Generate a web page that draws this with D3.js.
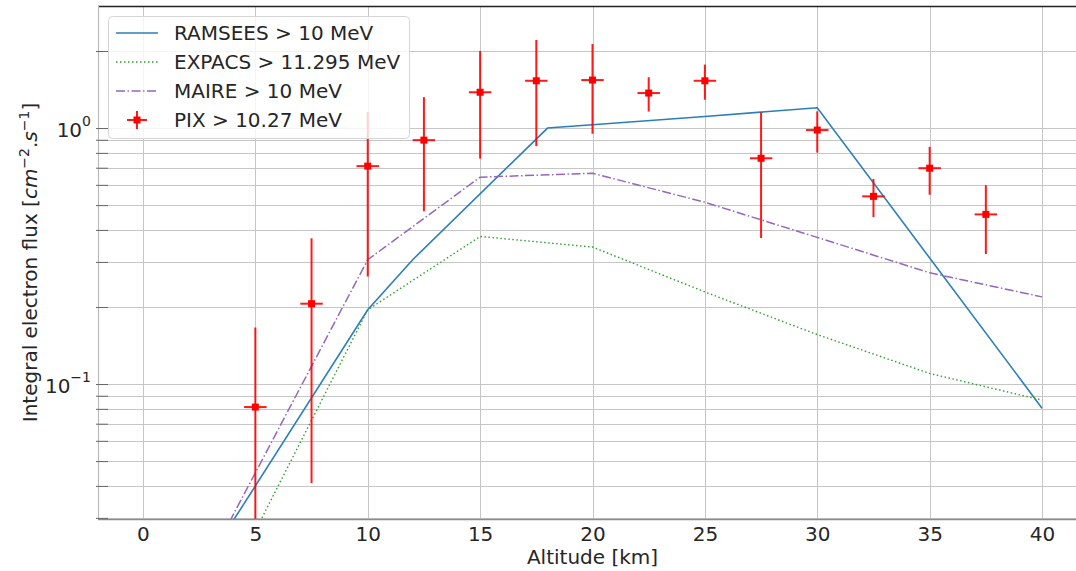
<!DOCTYPE html>
<html><head><meta charset="utf-8">
<script src="https://cdn.jsdelivr.net/npm/d3@7"></script>
<style>
body{margin:0;background:#fff;}
text{font-family:"DejaVu Sans",sans-serif;fill:#262626;}
</style>
</head><body>
<svg id="chart" width="1076" height="571"></svg>
<script>
// ---- data ----
const ramseesAlt  = [0, 10, 12, 18, 20, 25, 30, 40];
const ramseesFlux = [0.0082, 0.195, 0.306, 1.0, 1.03, 1.11, 1.20, 0.0805];
const expacsAlt   = [0, 5, 10, 15, 20, 25, 30, 35, 40];
const expacsFlux  = [0.0036, 0.0267, 0.195, 0.377, 0.343, 0.229, 0.156, 0.110, 0.0865];
const maireAlt    = [0, 5, 10, 15, 20, 25, 30, 35, 40];
const maireFlux   = [0.0066, 0.045, 0.306, 0.643, 0.666, 0.513, 0.374, 0.272, 0.219];
const pixAlt      = [5, 7.5, 10, 12.5, 15, 17.5, 20, 22.5, 25, 27.5, 30, 32.5, 35, 37.5];
const pixFlux     = [0.0813, 0.206, 0.71, 0.897, 1.38, 1.53, 1.54, 1.37, 1.53, 0.762, 0.982, 0.541, 0.697, 0.46];
const pixFluxErr  = [0.085, 0.165, 0.447, 0.424, 0.62, 0.68, 0.59, 0.21, 0.24, 0.39, 0.18, 0.092, 0.148, 0.138];
const pixAltErr   = [0.5, 0.5, 0.5, 0.5, 0.5, 0.5, 0.5, 0.5, 0.5, 0.5, 0.5, 0.5, 0.5, 0.5];
const xTicks      = [0, 5, 10, 15, 20, 25, 30, 35, 40];
const yMajorTicks = [0.1, 1];
const yMajorExp   = ["\u22121", "0"];
const yMinorTicks = [0.03,0.04,0.05,0.06,0.07,0.08,0.09,0.2,0.3,0.4,0.5,0.6,0.7,0.8,0.9,2];
const legendLabels = ["RAMSEES > 10 MeV", "EXPACS > 11.295 MeV", "MAIRE > 10 MeV", "PIX > 10.27 MeV"];

// ---- layout ----
const L = 98, R = 1087, T = 6, B = 519;
const svg = d3.select("#chart");
const x = d3.scaleLinear().domain([-2, 42]).range([L, R]);
const y = d3.scaleLog().domain([0.0297, 2.998]).range([B, T]);

const FS = 20;
const gridColor = "#c6c6c6";

// grid
const grid = svg.append("g");
grid.selectAll(".hg").data(yMajorTicks.concat(yMinorTicks)).join("line")
  .attr("x1", L).attr("x2", R).attr("y1", d => Math.round(y(d))+0.5).attr("y2", d => Math.round(y(d))+0.5)
  .attr("stroke", gridColor).attr("stroke-width", 1);
grid.selectAll(".vg").data(xTicks).join("line")
  .attr("y1", T).attr("y2", B).attr("x1", d => Math.round(x(d))+0.5).attr("x2", d => Math.round(x(d))+0.5)
  .attr("stroke", gridColor).attr("stroke-width", 1);

// clip
svg.append("clipPath").attr("id","clip").append("rect")
  .attr("x", L).attr("y", T).attr("width", R-L).attr("height", B-T);
const plot = svg.append("g").attr("clip-path","url(#clip)");

const line = d3.line().x(d => x(d[0])).y(d => y(d[1]));
const zip = (a,b) => a.map((v,i)=>[v,b[i]]);

const styles = [
  {color:"#2a7fba", dash:null, w:1.6},
  {color:"#2ca02c", dash:"1.5,2.5", w:1.4},
  {color:"#9467bd", dash:"9,2.5,1.5,2.5", w:1.5}
];
const series = [zip(ramseesAlt, ramseesFlux), zip(expacsAlt, expacsFlux), zip(maireAlt, maireFlux)];
series.forEach((s,i) => {
  plot.append("path").datum(s).attr("d", line)
    .attr("fill","none").attr("stroke", styles[i].color)
    .attr("stroke-width", styles[i].w)
    .attr("stroke-dasharray", styles[i].dash);
});

// PIX error bars
const pix = pixAlt.map((a,i)=>({a, f:pixFlux[i], e:pixFluxErr[i], xe:pixAltErr[i]}));
const pg = plot.append("g");
pg.selectAll(".ev").data(pix).join("line")
  .attr("x1", d=>x(d.a)).attr("x2", d=>x(d.a))
  .attr("y1", d=>y(d.f+d.e)).attr("y2", d=> d.f-d.e>0 ? y(d.f-d.e) : B+5)
  .attr("stroke","#ff0000").attr("stroke-width",2).attr("stroke-opacity",0.9);
pg.selectAll(".eh").data(pix).join("line")
  .attr("x1", d=>x(d.a-d.xe)).attr("x2", d=>x(d.a+d.xe))
  .attr("y1", d=>y(d.f)).attr("y2", d=>y(d.f))
  .attr("stroke","#ff0000").attr("stroke-width",2).attr("stroke-opacity",0.9);
pg.selectAll(".mk").data(pix).join("rect")
  .attr("x", d=>x(d.a)-3.5).attr("y", d=>y(d.f)-3.5).attr("width",7).attr("height",7)
  .attr("fill","#ff0000");

// spines
svg.append("line").attr("x1",L).attr("x2",R).attr("y1",T+0.5).attr("y2",T+0.5).attr("stroke","#222").attr("stroke-width",1.5);
svg.append("line").attr("x1",L+0.5).attr("x2",L+0.5).attr("y1",T).attr("y2",B).attr("stroke","#bbb").attr("stroke-width",1.2);
svg.append("line").attr("x1",L).attr("x2",R).attr("y1",B+0.5).attr("y2",B+0.5).attr("stroke","#8a8a8a").attr("stroke-width",1.5);

// x axis
const xAxis = svg.append("g").attr("transform",`translate(0,${B})`)
  .call(d3.axisBottom(x).tickValues(xTicks).tickSize(0).tickPadding(0).tickFormat(d3.format("d")));
xAxis.select(".domain").remove();
xAxis.selectAll(".tick text").attr("font-size",FS).attr("dy",null).attr("y",22).style("fill","#262626");

// y axis (major, labels as 10^n)
const yAxis = svg.append("g").attr("transform",`translate(${L},0)`)
  .call(d3.axisLeft(y).tickValues(yMajorTicks).tickSize(-10).tickPadding(6).tickFormat(""));
yAxis.select(".domain").remove();
yAxis.selectAll(".tick line").attr("stroke","#666").attr("x1",-2);
yAxis.selectAll(".tick text").each(function(d,i){
  const t = d3.select(this).attr("font-size",FS).attr("dy",null).attr("y",8).attr("x",-7)
    .attr("text-anchor","end").style("fill","#262626");
  t.append("tspan").text("10");
  t.append("tspan").attr("font-size",14).attr("dy",-11).text(yMajorExp[i]);
});
const yMinor = svg.append("g").attr("transform",`translate(${L},0)`)
  .call(d3.axisLeft(y).tickValues(yMinorTicks).tickSize(-10).tickFormat(""));
yMinor.select(".domain").remove();
yMinor.selectAll(".tick line").attr("stroke","#666").attr("x1",-2);

// axis labels
svg.append("text").attr("x",(L+R)/2).attr("y",564).attr("text-anchor","middle").attr("font-size",FS)
  .text("Altitude [km]");
const yl = svg.append("text").attr("transform",`translate(37,${(T+B)/2}) rotate(-90)`)
  .attr("text-anchor","middle").attr("font-size",FS);
yl.append("tspan").text("Integral electron flux [");
yl.append("tspan").attr("font-style","italic").text("cm");
yl.append("tspan").attr("font-size",14).attr("dy",-8).text("\u22122");
yl.append("tspan").attr("dy",8).text(".");
yl.append("tspan").attr("font-style","italic").text("s");
yl.append("tspan").attr("font-size",14).attr("dy",-8).text("\u22121");
yl.append("tspan").attr("dy",8).text("]");

// legend
const lg = svg.append("g");
lg.append("rect").attr("x",108.5).attr("y",16.5).attr("width",301).attr("height",122).attr("rx",4)
  .attr("fill","#fff").attr("fill-opacity",0.8).attr("stroke","#d5d5d5");
const rowY = [33, 62, 91, 120];
legendLabels.forEach((lab,i) => {
  if (i < 3) {
    lg.append("line").attr("x1",116).attr("x2",158).attr("y1",rowY[i]).attr("y2",rowY[i])
      .attr("stroke",styles[i].color).attr("stroke-width",styles[i].w).attr("stroke-dasharray",styles[i].dash);
  } else {
    lg.append("line").attr("x1",127).attr("x2",147).attr("y1",rowY[i]).attr("y2",rowY[i]).attr("stroke","#ff0000").attr("stroke-width",2).attr("stroke-opacity",0.9);
    lg.append("line").attr("x1",137).attr("x2",137).attr("y1",rowY[i]-9).attr("y2",rowY[i]+9).attr("stroke","#ff0000").attr("stroke-width",2).attr("stroke-opacity",0.9);
    lg.append("rect").attr("x",133.5).attr("y",rowY[i]-3.5).attr("width",7).attr("height",7).attr("fill","#ff0000");
  }
  lg.append("text").attr("x",174).attr("y",rowY[i]+7).attr("font-size",FS).text(lab);
});
</script>
</body></html>
